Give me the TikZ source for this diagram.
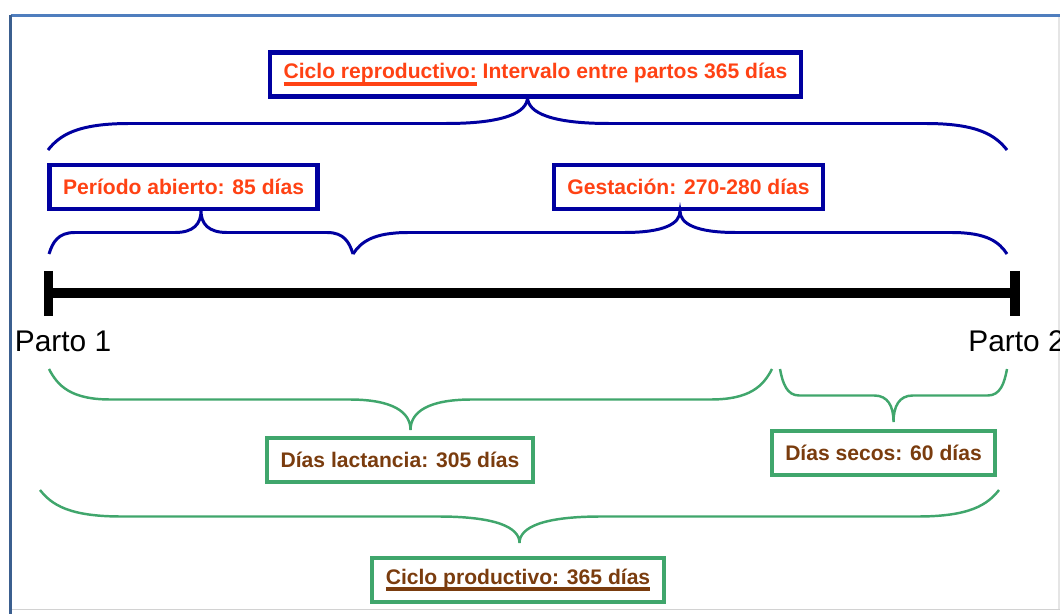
\documentclass[tikz,border=0pt]{standalone}
\usepackage{fontspec}
\setmainfont{Liberation Sans}
\usetikzlibrary{calc}

\definecolor{boxblue}{RGB}{0,0,160}
\definecolor{bracegreen}{RGB}{64,166,108}
\definecolor{txtorange}{RGB}{255,66,20}
\definecolor{txtbrown}{RGB}{122,60,14}
\definecolor{frameblue}{RGB}{79,126,190}

% subrayado grueso
\newcommand\thickul[1]{\setbox0\hbox{#1}\rlap{\rule[-3.9pt]{\wd0}{2.2pt}}\box0\relax}

% llave: inicio, fin, media altura, estilo
\newcommand\curly[4]{%
  \draw[#4] (#1)
    .. controls ($(#1)!.012!(#2)+(0,{.55*(#3)})$) and ($(#1)!.03!(#2)+(0,#3)$) .. ($(#1)!.085!(#2)+(0,#3)$)
    -- ($(#1)!.415!(#2)+(0,#3)$)
    .. controls ($(#1)!.475!(#2)+(0,#3)$) and ($(#1)!.5!(#2)+(0,{1.4*(#3)})$) .. ($(#1)!.5!(#2)+(0,{2*(#3)})$)
    .. controls ($(#1)!.5!(#2)+(0,{1.4*(#3)})$) and ($(#1)!.525!(#2)+(0,#3)$) .. ($(#1)!.585!(#2)+(0,#3)$)
    -- ($(#1)!.915!(#2)+(0,#3)$)
    .. controls ($(#1)!.97!(#2)+(0,#3)$) and ($(#1)!.988!(#2)+(0,{.55*(#3)})$) .. (#2);}

\begin{document}
\begin{tikzpicture}[x=0.02cm,y=-0.02cm,
  repbox/.style={draw=boxblue, line width=2.6pt, fill=white, text=txtorange,
    font=\bfseries\fontsize{12}{14}\selectfont, inner xsep=0.27cm, minimum height=0.88cm},
  prodbox/.style={repbox, draw=bracegreen, line width=2.2pt, text=txtbrown},
  bluebrace/.style={draw=boxblue, line width=1.7pt},
  greenbrace/.style={draw=bracegreen, line width=1.4pt},
  parto/.style={font=\fontsize{17}{20}\selectfont, inner sep=0pt}]
\useasboundingbox (0,0) rectangle (1060,614);
% marco
\draw[gray!35, line width=1pt] (12,609.5) -- (1060,609.5);
\draw[gray!20, line width=0.6pt] (1059,17) -- (1059,609);
\draw[frameblue, line width=1.7pt] (10.5,15.5) -- (1060,15.5);
\draw[frameblue!75!black, line width=1.7pt] (10.5,15.5) -- (10.5,614);

% linea de tiempo
\coordinate (p1) at (48.5,293);
\coordinate (p2) at (1015,293);
\draw[line width=6.2pt] (p1) -- (p2);
\foreach \p in {p1,p2} { \draw[line width=5.2pt] ($(\p)+(0,-22)$) -- ($(\p)+(0,23)$); }
\node[parto, anchor=base] (parto1) at (63,352) {Parto 1};
\node[parto, anchor=base west] (parto2) at (968,352) {Parto 2};

% ciclo reproductivo
\node[repbox] (crep) at (535.5,74.5) {\thickul{Ciclo reproductivo:} Intervalo entre partos 365 días};
\coordinate (ra) at (48,150);
\coordinate (rb) at (1007,150);
\curly{ra}{rb}{-26.5}{bluebrace}

\node[repbox] (pabierto) at (183.5,187) {Período abierto: 85 días};
\node[repbox] (gesta) at (688.5,187) {Gestación: 270-280 días};
\coordinate (aa) at (49,254);
\coordinate (ab) at (353,254);
\coordinate (gb) at (1007,254);
\curly{aa}{ab}{-21.5}{bluebrace}
\curly{ab}{gb}{-21.5}{bluebrace}

% ciclo productivo
\coordinate (la) at (49,369);
\coordinate (lb) at (772,369);
\coordinate (sa) at (780,369);
\coordinate (sb) at (1007,369);
\curly{la}{lb}{30.5}{greenbrace}
\curly{sa}{sb}{26.5}{greenbrace}
\node[prodbox] (lact) at (400,460) {Días lactancia: 305 días};
\node[prodbox] (secos) at (883.5,453) {Días secos: 60 días};

\coordinate (ca) at (40,490);
\coordinate (cb) at (999,490);
\curly{ca}{cb}{26.5}{greenbrace}
\node[prodbox] (cprod) at (518,580) {\thickul{Ciclo productivo: 365 días}};
\end{tikzpicture}
\end{document}
